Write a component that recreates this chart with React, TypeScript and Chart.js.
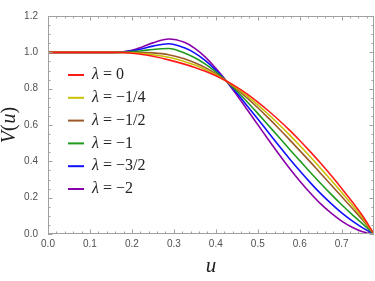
import React, { useEffect, useRef } from 'react';
import { Chart, registerables } from 'chart.js';

Chart.register(...registerables);

// u grid (x values)
const U = [0, 0.05, 0.1, 0.15, 0.175, 0.2, 0.225, 0.25, 0.2875, 0.325, 0.35, 0.375, 0.4, 0.425, 0.45, 0.475, 0.5, 0.525, 0.55, 0.575, 0.6, 0.625, 0.65, 0.675, 0.7, 0.725, 0.75, 0.777];

// V(u) for each λ
const V_L0 = [1, 1, 1, 1, 0.999, 0.995, 0.988, 0.978, 0.9585, 0.935, 0.917, 0.896, 0.8715, 0.8425, 0.8085, 0.7695, 0.726, 0.6785, 0.6275, 0.573, 0.515, 0.4535, 0.389, 0.3215, 0.251, 0.177, 0.099, 0];
const V_LM1_4 = [1, 1, 1, 1, 0.999, 0.997, 0.993, 0.987, 0.973, 0.95, 0.93, 0.906, 0.877, 0.842, 0.803, 0.759, 0.711, 0.659, 0.604, 0.547, 0.487, 0.425, 0.361, 0.296, 0.229, 0.16, 0.088, 0];
const V_LM1_2 = [1, 1, 1, 1, 1.0, 0.999, 0.999, 0.997, 0.987, 0.965, 0.943, 0.916, 0.882, 0.842, 0.798, 0.748, 0.695, 0.639, 0.581, 0.521, 0.459, 0.397, 0.333, 0.27, 0.206, 0.142, 0.077, 0];
const V_LM1 = [1, 1, 1, 1, 1.0, 1.004, 1.009, 1.016, 1.021, 0.997, 0.97, 0.935, 0.892, 0.842, 0.787, 0.727, 0.664, 0.599, 0.534, 0.468, 0.404, 0.34, 0.278, 0.218, 0.161, 0.107, 0.056, 0];
const V_LM3_2 = [1, 1, 1, 1, 1.001, 1.008, 1.02, 1.034, 1.047, 1.025, 0.996, 0.955, 0.902, 0.842, 0.776, 0.705, 0.633, 0.56, 0.487, 0.416, 0.348, 0.283, 0.222, 0.167, 0.116, 0.072, 0.034, 0];
const V_LM2 = [1, 1, 1, 1, 1.002, 1.012, 1.03, 1.052, 1.0735, 1.055, 1.022, 0.974, 0.912, 0.842, 0.765, 0.684, 0.602, 0.52, 0.44, 0.363, 0.292, 0.226, 0.166, 0.115, 0.071, 0.037, 0.012, 0];

const LAMBDA_LABELS = ['0', '\u22121/4', '\u22121/2', '\u22121', '\u22123/2', '\u22122'];
const COLORS = ['#ff1a1a', '#c8c000', '#9c5a2a', '#1f9a1f', '#1010ff', '#8a00a8'];

const X_MIN = 0;
const X_MAX = 0.777;
const Y_MIN = 0;
const Y_MAX = 1.2;
const X_MAJOR = 0.1;
const X_MINOR = 0.02;
const Y_MAJOR = 0.2;
const Y_MINOR = 0.05;

const framePlugin = {
  id: 'mmaFrame',
  afterDatasetsDraw(chart: any) {
    const { ctx, chartArea: a, scales } = chart;
    const xs = scales.x;
    const ys = scales.y;
    ctx.save();
    ctx.strokeStyle = '#a0a0a0';
    ctx.lineWidth = 1;
    ctx.strokeRect(Math.round(a.left) + 0.5, Math.round(a.top) + 0.5, Math.round(a.right - a.left) - 1, Math.round(a.bottom - a.top) - 1);
    const nx = Math.round((X_MAX - X_MIN) / X_MINOR + 1e-6);
    for (let i = 0; i <= nx; i++) {
      const v = X_MIN + i * X_MINOR;
      const major = i % Math.round(X_MAJOR / X_MINOR) === 0;
      const len = major ? 4.5 : 2.5;
      const px = Math.round(xs.getPixelForValue(v)) + 0.5;
      ctx.beginPath();
      ctx.moveTo(px, a.bottom);
      ctx.lineTo(px, a.bottom - len);
      ctx.moveTo(px, a.top);
      ctx.lineTo(px, a.top + len);
      ctx.stroke();
    }
    const ny = Math.round((Y_MAX - Y_MIN) / Y_MINOR + 1e-6);
    for (let i = 0; i <= ny; i++) {
      const v = Y_MIN + i * Y_MINOR;
      const major = i % Math.round(Y_MAJOR / Y_MINOR) === 0;
      const len = major ? 4.5 : 2.5;
      const py = Math.round(ys.getPixelForValue(v)) + 0.5;
      ctx.beginPath();
      ctx.moveTo(a.left, py);
      ctx.lineTo(a.left + len, py);
      ctx.moveTo(a.right, py);
      ctx.lineTo(a.right - len, py);
      ctx.stroke();
    }

    // axis titles
    ctx.fillStyle = '#222';
    ctx.textBaseline = 'alphabetic';
    ctx.font = "italic 21px 'Liberation Serif'";
    ctx.textAlign = 'center';
    ctx.fillText('u', (a.left + a.right) / 2, 271.5);

    ctx.save();
    ctx.translate(15, (a.top + a.bottom) / 2);
    ctx.rotate(-Math.PI / 2);
    const parts: [string, boolean][] = [['V', true], ['(', false], ['u', true], [')', false]];
    const fs = "20px 'Liberation Serif'";
    let total = 0;
    for (const [t, it] of parts) {
      ctx.font = (it ? 'italic ' : '') + fs;
      total += ctx.measureText(t).width + (t === '(' ? 1 : 0);
    }
    let cx = -total / 2;
    ctx.textAlign = 'left';
    for (const [t, it] of parts) {
      ctx.font = (it ? 'italic ' : '') + fs;
      ctx.fillText(t, cx, 0);
      cx += ctx.measureText(t).width + (t === '(' ? 1 : 0);
    }
    ctx.restore();

    // legend
    ctx.textAlign = 'left';
    ctx.textBaseline = 'middle';
    chart.data.datasets.forEach((ds: any, i: number) => {
      const y = 75 + i * 22.8;
      ctx.strokeStyle = ds.borderColor;
      ctx.lineWidth = 2;
      ctx.beginPath();
      ctx.moveTo(68, y);
      ctx.lineTo(84, y);
      ctx.stroke();
      ctx.fillStyle = '#222';
      ctx.font = "italic 16px 'Liberation Serif'";
      ctx.fillText('\u03bb', 92, y);
      const w = ctx.measureText('\u03bb').width;
      ctx.font = "16px 'Liberation Serif'";
      ctx.fillText(' = ' + LAMBDA_LABELS[i], 92 + w, y);
    });
    ctx.restore();
  },
};

export default function App() {
  const ref = useRef<HTMLCanvasElement>(null);
  useEffect(() => {
    const series = [V_L0, V_LM1_4, V_LM1_2, V_LM1, V_LM3_2, V_LM2];
    const chart = new Chart(ref.current!, {
      type: 'line',
      data: {
        datasets: series.map((s, i) => ({
          label: '\u03bb = ' + LAMBDA_LABELS[i],
          data: U.map((u, j) => ({ x: u, y: s[j] })),
          borderColor: COLORS[i],
          backgroundColor: COLORS[i],
          borderWidth: 1.6,
          pointRadius: 0,
          cubicInterpolationMode: 'monotone' as const,
          fill: false,
        })),
      },
      options: {
        animation: false,
        responsive: false,
        devicePixelRatio: 1,
        layout: { padding: { top: 6, right: 1, left: 0, bottom: 0 } },
        plugins: { legend: { display: false }, tooltip: { enabled: false } },
        scales: {
          x: {
            type: 'linear',
            min: X_MIN,
            max: X_MAX,
            grid: { display: false, drawTicks: false },
            border: { display: false },
            ticks: {
              stepSize: X_MAJOR,
              includeBounds: false,
              autoSkip: false,
              maxRotation: 0,
              padding: 4,
              color: '#505050',
              font: { family: "'Liberation Sans', Arial, sans-serif", size: 10 },
              callback: (v: any) => Number(v).toFixed(1),
            },
            afterFit: (s: any) => { s.height = 47; },
          },
          y: {
            type: 'linear',
            min: Y_MIN,
            max: Y_MAX,
            grid: { display: false, drawTicks: false },
            border: { display: false },
            ticks: {
              stepSize: Y_MAJOR,
              autoSkip: false,
              padding: 10,
              color: '#505050',
              font: { family: "'Liberation Sans', Arial, sans-serif", size: 10 },
              callback: (v: any) => Number(v).toFixed(1),
            },
            afterFit: (s: any) => { s.width = 48; },
          },
        },
      },
      plugins: [framePlugin],
    });
    return () => chart.destroy();
  }, []);
  return (
    <div style={{ position: 'fixed', left: 0, top: 0, width: 375, height: 281, background: '#fff' }}>
      <canvas ref={ref} width={375} height={281} style={{ display: 'block' }} />
    </div>
  );
}
